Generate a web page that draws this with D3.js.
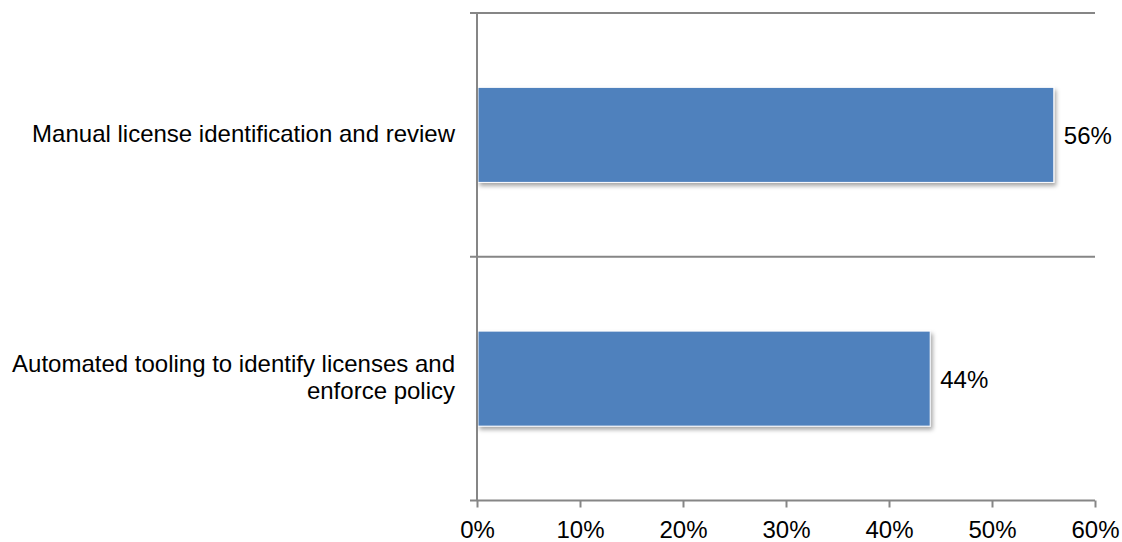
<!DOCTYPE html>
<html>
<head>
<meta charset="utf-8">
<script src="https://cdn.jsdelivr.net/npm/d3@7"></script>
<style>
  html, body { margin: 0; padding: 0; background: #fff; }
  svg { display: block; font-family: "Liberation Sans", Arial, sans-serif; }
</style>
</head>
<body>
<svg id="chart" width="1122" height="542"></svg>
<script>
// Chart data
const categories = [
  ["Manual license identification and review"],
  ["Automated tooling to identify licenses and", "enforce policy"]
];
const values = [0.56, 0.44];
const valueLabels = ["56%", "44%"];
const xTicks = [0, 0.1, 0.2, 0.3, 0.4, 0.5, 0.6];

const svg = d3.select("#chart");
const plotLeft = 477, plotRight = 1095, plotTop = 13, plotBottom = 500.5;
const axisColor = "#868686";
const barColor = "#4F81BD";
const fontSize = 24;

const x = d3.scaleLinear().domain([0, 0.6]).range([plotLeft, plotRight]);
const y = d3.scaleBand().domain(d3.range(categories.length)).range([plotTop, plotBottom]).paddingInner(0).paddingOuter(0);
const barH = y.bandwidth() * 0.39;

// Drop shadow for bars
const defs = svg.append("defs");
const f = defs.append("filter").attr("id", "shadow").attr("x", "-10%").attr("y", "-10%").attr("width", "130%").attr("height", "130%");
f.append("feDropShadow").attr("dx", 2).attr("dy", 3).attr("stdDeviation", 2)
  .attr("flood-color", "#000").attr("flood-opacity", 0.35);

// Category separators (top border of each band plus the bottom)
const seps = [plotTop, ...categories.map((d, i) => y(i) + y.bandwidth())];
svg.append("g").selectAll("line").data(seps).join("line")
  .attr("x1", plotLeft - 7).attr("x2", plotRight)
  .attr("y1", d => d).attr("y2", d => d)
  .attr("stroke", axisColor).attr("stroke-width", 2);

// Bars
svg.append("g").selectAll("rect").data(values).join("rect")
  .attr("x", x(0) + 1)
  .attr("y", (d, i) => y(i) + (y.bandwidth() - barH) / 2)
  .attr("width", d => x(d) - x(0) - 1)
  .attr("height", barH)
  .attr("fill", barColor)
  .attr("stroke", "#fff").attr("stroke-width", 1)
  .attr("filter", "url(#shadow)");

// Vertical axis line
svg.append("line")
  .attr("x1", plotLeft).attr("x2", plotLeft)
  .attr("y1", plotTop).attr("y2", plotBottom)
  .attr("stroke", axisColor).attr("stroke-width", 2);

// Horizontal axis
const xAxis = d3.axisBottom(x).tickValues(xTicks).tickFormat(d3.format(".0%")).tickSizeInner(7).tickSizeOuter(0).tickPadding(13);
const gx = svg.append("g").attr("transform", `translate(0,${plotBottom})`).call(xAxis);
gx.select(".domain").remove();
gx.selectAll(".tick line").attr("stroke", axisColor).attr("stroke-width", 2);
gx.selectAll(".tick text").attr("fill", "#000").attr("font-size", fontSize)
  .attr("font-family", "Liberation Sans, Arial, sans-serif");

// Category labels
const lineH = 27;
svg.append("g").selectAll("text").data(categories).join("text")
  .attr("text-anchor", "end")
  .attr("font-size", fontSize)
  .attr("fill", "#000")
  .attr("transform", (d, i) => `translate(455,${y(i) + y.bandwidth() / 2})`)
  .each(function(lines) {
    const t = d3.select(this);
    const y0 = -(lines.length - 1) * lineH / 2;
    lines.forEach((s, k) => {
      t.append("tspan").attr("x", 0).attr("y", y0 + k * lineH).attr("dy", "0.3em").text(s);
    });
  });

// Value labels
svg.append("g").selectAll("text").data(values).join("text")
  .attr("x", d => x(d) + 10)
  .attr("y", (d, i) => y(i) + y.bandwidth() / 2)
  .attr("dy", "0.4em")
  .attr("font-size", fontSize)
  .attr("fill", "#000")
  .text((d, i) => valueLabels[i]);
</script>
</body>
</html>
